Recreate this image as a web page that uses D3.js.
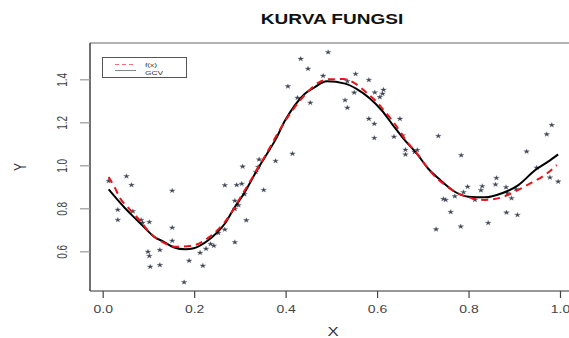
<!DOCTYPE html>
<html>
<head>
<meta charset="utf-8">
<script src="https://cdn.jsdelivr.net/npm/d3@7"></script>
<style>
  html, body { margin: 0; padding: 0; background: #fff; }
  svg { display: block; font-family: "Liberation Sans", Arial, Helvetica, sans-serif; }
</style>
</head>
<body>
<svg id="chart" width="569" height="338"></svg>
<script>
// ---- data ----
const pointX = [0.013,0.052,0.063,0.033,0.033,0.066,0.084,0.087,0.102,0.152,0.152,0.152,0.099,0.102,0.125,0.104,0.125,0.189,0.219,0.213,0.226,0.178,
  0.267,0.293,0.289,0.289,0.267,0.289,0.243,0.236,0.253,0.314,0.297,0.310,0.304,0.306,0.335,0.340,0.342,0.352,0.378,0.415,
  0.405,0.426,0.433,0.449,0.454,0.482,0.493,0.553,0.582,0.535,0.550,0.595,0.614,0.612,0.606,0.530,0.535,0.582,0.594,0.650,
  0.594,0.637,0.656,0.662,0.662,0.688,0.682,0.734,0.729,0.784,0.982,0.971,0.927,0.949,0.978,0.996,0.861,0.859,0.830,0.827,
  0.798,0.789,0.770,0.745,0.750,0.814,0.882,0.885,0.894,0.904,0.761,0.883,0.907,0.783,0.843];
const pointY = [0.927,0.949,0.908,0.793,0.746,0.786,0.746,0.733,0.736,0.882,0.710,0.649,0.598,0.578,0.606,0.528,0.536,0.556,0.533,0.593,0.612,0.456,
  0.907,0.908,0.835,0.797,0.701,0.642,0.626,0.634,0.685,0.744,0.814,0.865,0.914,0.994,0.969,0.992,1.027,0.885,1.020,1.054,
  1.367,1.314,1.495,1.449,1.291,1.416,1.526,1.425,1.397,1.391,1.338,1.339,1.351,1.333,1.317,1.303,1.268,1.216,1.193,1.216,
  1.127,1.133,1.139,1.072,1.050,1.071,1.062,1.136,0.702,1.047,1.187,1.144,1.064,0.989,0.943,0.924,0.941,0.911,0.903,0.884,
  0.900,0.875,0.856,0.843,0.839,0.839,0.898,0.870,0.847,0.889,0.783,0.780,0.769,0.715,0.732];

const gcvX = [0.013,0.049,0.071,0.093,0.112,0.133,0.155,0.181,0.199,0.221,0.239,0.267,0.289,0.311,0.333,0.355,0.377,0.399,0.420,0.442,0.464,0.490,
  0.530,0.555,0.585,0.610,0.635,0.661,0.687,0.712,0.738,0.770,0.799,0.836,0.873,0.909,0.946,0.974,0.996];
const gcvY = [0.888,0.800,0.753,0.707,0.668,0.645,0.619,0.609,0.614,0.637,0.665,0.728,0.806,0.876,0.961,1.039,1.116,1.209,1.279,1.333,1.364,1.391,
  1.380,1.356,1.310,1.256,1.186,1.116,1.054,0.984,0.932,0.877,0.854,0.851,0.870,0.908,0.978,1.017,1.051];

const fX = [0.013,0.026,0.038,0.057,0.082,0.104,0.126,0.162,0.195,0.232,0.267,0.311,0.355,0.399,0.442,0.471,0.493,0.526,0.555,0.578,0.598,0.614,
  0.639,0.661,0.687,0.711,0.727,0.749,0.774,0.807,0.836,0.873,0.903,0.938,0.967,0.993];
const fY = [0.946,0.898,0.847,0.800,0.741,0.684,0.649,0.621,0.626,0.665,0.736,0.885,1.043,1.206,1.327,1.383,1.400,1.401,1.376,1.336,1.297,1.257,
  1.192,1.122,1.055,0.987,0.947,0.908,0.873,0.847,0.839,0.851,0.880,0.919,0.955,1.001];

const xTicks = [0, 0.2, 0.4, 0.6, 0.8, 1.0];
const xTickLabels = ["0.0", "0.2", "0.4", "0.6", "0.8", "1.0"];
const yTicks = [0.6, 0.8, 1.0, 1.2, 1.4];
const yTickLabels = ["0.6", "0.8", "1.0", "1.2", "1.4"];

const titleText = "KURVA FUNGSI";
const xLabel = "X";
const yLabel = "Y";
const legendLabels = ["f(x)", "GCV"];

// ---- drawing ----
const svg = d3.select("#chart");
const SX = 1.4; // horizontal stretch of the original raster

const box = { left: 90, right: 582, top: 43, bottom: 291 };
const x = d3.scaleLinear().domain([0, 1]).range([102.7, 560]);
const y = d3.scaleLinear().domain([0.6, 1.4]).range([251.3, 79.3]);

// title
svg.append("text")
  .attr("transform", `translate(332,24) scale(1.36,1)`)
  .attr("text-anchor", "middle")
  .attr("font-weight", "bold")
  .attr("font-size", 14)
  .attr("fill", "#111")
  .text(titleText);

// plot box
svg.append("line").attr("x1", box.left).attr("x2", box.right).attr("y1", box.top).attr("y2", box.top)
  .attr("stroke", "#9a9a9a").attr("stroke-width", 1.6);
svg.append("line").attr("x1", box.left).attr("x2", box.left).attr("y1", box.top).attr("y2", box.bottom)
  .attr("stroke", "#111").attr("stroke-width", 1.2);
svg.append("line").attr("x1", box.left).attr("x2", box.right).attr("y1", box.bottom).attr("y2", box.bottom)
  .attr("stroke", "#333").attr("stroke-width", 1.2);

// x axis
const xAxis = d3.axisBottom(x).tickValues(xTicks).tickSize(7)
  .tickFormat((d, i) => xTickLabels[i]);
const gx = svg.append("g").attr("transform", `translate(0,${box.bottom})`).call(xAxis);
gx.select(".domain").remove();
gx.selectAll(".tick line").attr("stroke", "#444").attr("stroke-width", 1.2);
gx.selectAll(".tick text")
  .attr("y", null).attr("dy", null)
  .attr("transform", `translate(0,22) scale(${SX},1)`)
  .attr("font-size", 10).attr("fill", "#444")
  .attr("font-family", "Liberation Sans, Arial, sans-serif");

// y axis
const yAxis = d3.axisLeft(y).tickValues(yTicks).tickSize(10)
  .tickFormat((d, i) => yTickLabels[i]);
const gy = svg.append("g").attr("transform", `translate(${box.left},0)`).call(yAxis);
gy.select(".domain").remove();
gy.selectAll(".tick line").attr("stroke", "#999").attr("stroke-width", 1.2);
gy.selectAll(".tick text")
  .attr("x", null).attr("dy", null)
  .attr("text-anchor", "middle")
  .attr("transform", `translate(-23.5,0) scale(${SX},1) rotate(-90)`)
  .attr("font-size", 10).attr("fill", "#444")
  .attr("font-family", "Liberation Sans, Arial, sans-serif");

// axis titles
svg.append("text")
  .attr("transform", `translate(333,336) scale(${SX},1)`)
  .attr("text-anchor", "middle").attr("font-size", 12).attr("fill", "#333")
  .text(xLabel);
svg.append("text")
  .attr("transform", `translate(26,167) scale(${SX},1) rotate(-90)`)
  .attr("text-anchor", "middle").attr("font-size", 12).attr("fill", "#333")
  .text(yLabel);

// points
const star = d3.symbol().type(d3.symbolStar).size(7);
svg.append("g").selectAll("path")
  .data(pointX.map((d, i) => [d, pointY[i]]))
  .join("path")
  .attr("d", star)
  .attr("transform", d => `translate(${x(d[0])},${y(d[1])}) scale(1.2,1)`)
  .attr("fill", "#3c4250")
  .attr("stroke", "#5a6070")
  .attr("stroke-width", 0.3);

const line = d3.line().x(d => x(d[0])).y(d => y(d[1])).curve(d3.curveMonotoneX);

// GCV curve (black, solid)
svg.append("path")
  .datum(gcvX.map((d, i) => [d, gcvY[i]]))
  .attr("d", line)
  .attr("fill", "none").attr("stroke", "#000").attr("stroke-width", 2);

// f(x) curve (red, dashed)
svg.append("path")
  .datum(fX.map((d, i) => [d, fY[i]]))
  .attr("d", line)
  .attr("fill", "none").attr("stroke", "#e8141a").attr("stroke-width", 2)
  .attr("stroke-dasharray", "7,5");

// legend
const lg = svg.append("g");
lg.append("rect").attr("x", 102.5).attr("y", 57.5).attr("width", 84).attr("height", 20)
  .attr("fill", "#fff").attr("stroke", "#555").attr("stroke-width", 1);
lg.append("line").attr("x1", 115).attr("x2", 136).attr("y1", 64.5).attr("y2", 64.5)
  .attr("stroke", "#f07070").attr("stroke-width", 1).attr("stroke-dasharray", "4,3");
lg.append("line").attr("x1", 115).attr("x2", 136).attr("y1", 70.5).attr("y2", 70.5)
  .attr("stroke", "#888").attr("stroke-width", 1);
lg.append("text").attr("transform", `translate(145,67) scale(${SX},1)`)
  .attr("font-size", 6).attr("fill", "#333").text(legendLabels[0]);
lg.append("text").attr("transform", `translate(145,74.5) scale(${SX},1)`)
  .attr("font-size", 6).attr("fill", "#333").text(legendLabels[1]);
</script>
</body>
</html>
